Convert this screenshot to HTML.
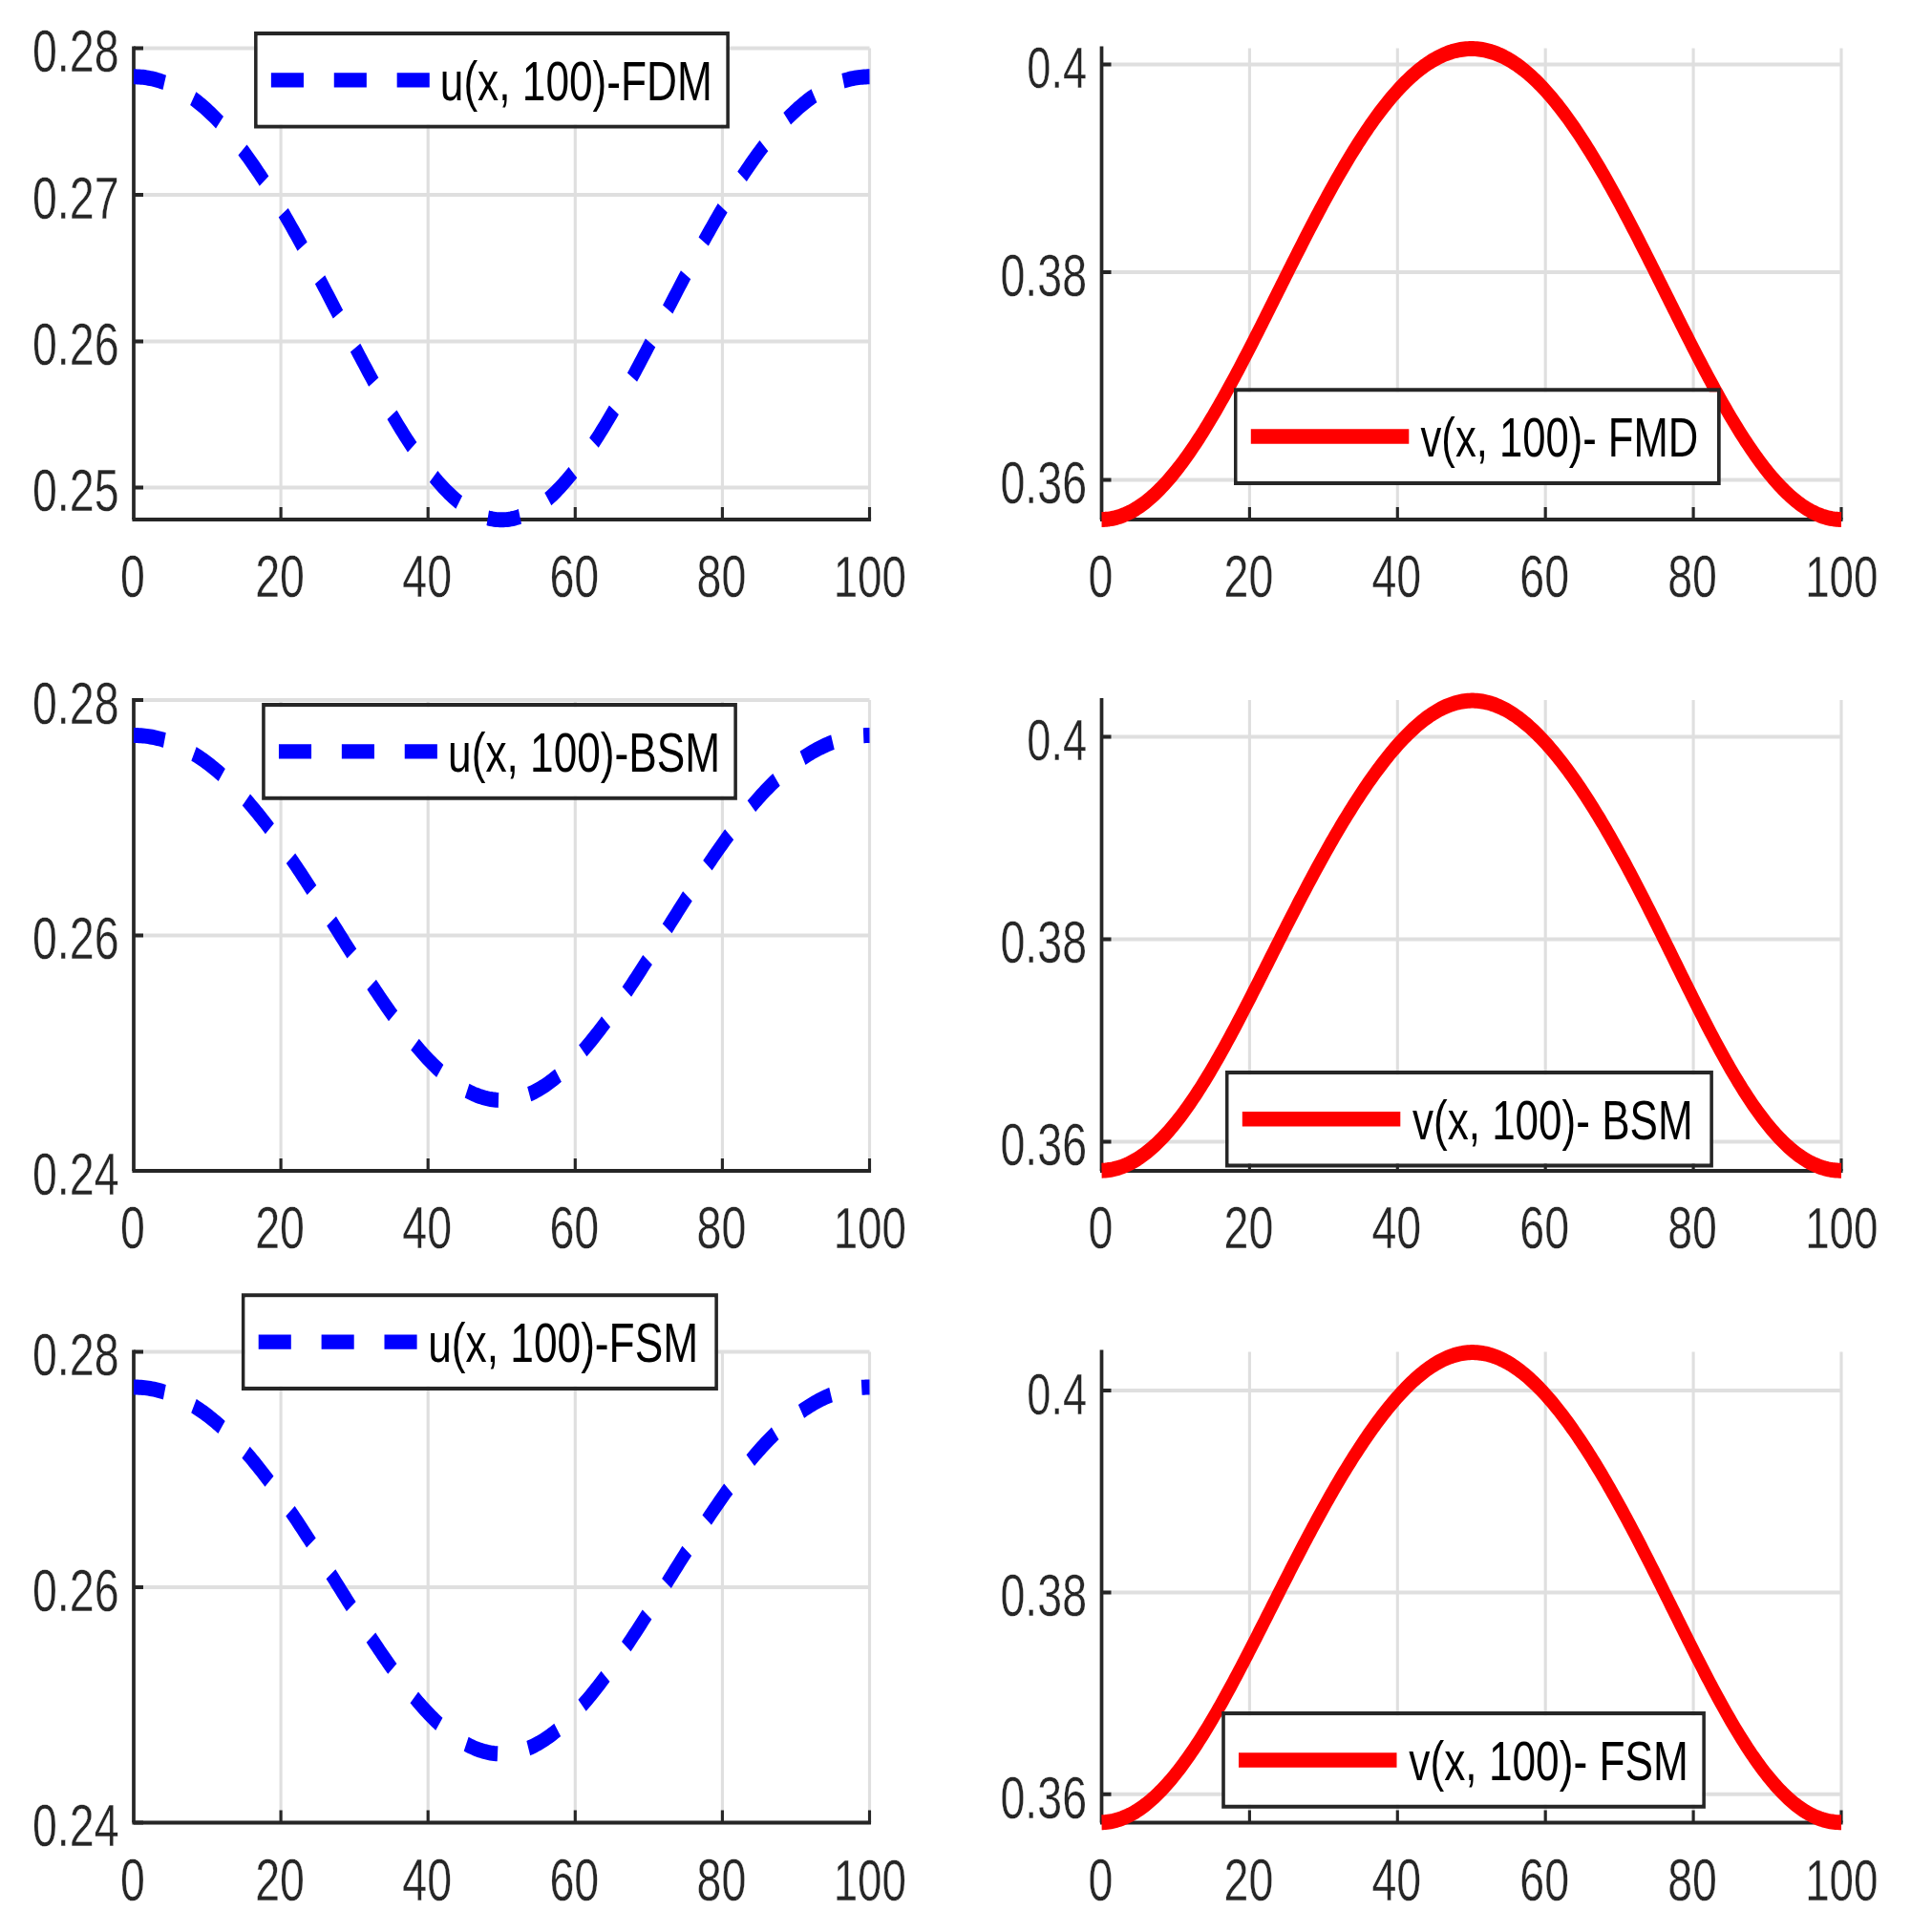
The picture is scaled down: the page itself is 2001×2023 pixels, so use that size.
<!DOCTYPE html>
<html><head><meta charset="utf-8"><title>u(x,100) and v(x,100)</title>
<style>html,body{margin:0;padding:0;background:#fff;}svg{display:block;}.tk{font-family:"Liberation Sans",Arial,Helvetica,sans-serif;fill:#262626;stroke:#fff;stroke-width:0.4px;}.lg{font-family:"Liberation Sans",Arial,Helvetica,sans-serif;fill:#000;}</style></head><body>
<svg width="2001" height="2023" viewBox="0 0 2001 2023">
<rect x="0" y="0" width="2001" height="2023" fill="#fff"/>
<g id="ax00">
<path d="M294.1 50.5V544M448.2 50.5V544M602.3 50.5V544M756.4 50.5V544M910.5 50.5V544" stroke="#dfdfdf" stroke-width="3.12" fill="none"/>
<path d="M140 50.5H910.5M140 204H910.5M140 357.5H910.5M140 510.5H910.5" stroke="#dfdfdf" stroke-width="4" fill="none"/>
<path d="M140 48.5V544" stroke="#262626" stroke-width="3.72" fill="none"/>
<path d="M138.44 544H912.06" stroke="#262626" stroke-width="4" fill="none"/>
<path d="M140 50.5H150M140 204H150M140 357.5H150M140 510.5H150" stroke="#262626" stroke-width="4" fill="none"/>
<path d="M294.1 544V531M448.2 544V531M602.3 544V531M756.4 544V531M910.5 544V531" stroke="#262626" stroke-width="3.12" fill="none"/>
<text class="tk" transform="translate(139 625.4) scale(0.75 1)" font-size="62.0" text-anchor="middle">0</text>
<text class="tk" transform="translate(293.1 625.4) scale(0.75 1)" font-size="62.0" text-anchor="middle">20</text>
<text class="tk" transform="translate(447.2 625.4) scale(0.75 1)" font-size="62.0" text-anchor="middle">40</text>
<text class="tk" transform="translate(601.3 625.4) scale(0.75 1)" font-size="62.0" text-anchor="middle">60</text>
<text class="tk" transform="translate(755.4 625.4) scale(0.75 1)" font-size="62.0" text-anchor="middle">80</text>
<text class="tk" transform="translate(910.8 625.4) scale(0.7375 1)" font-size="62.0" text-anchor="middle">100</text>
<text class="tk" transform="translate(124.5 75.2) scale(0.75 1)" font-size="62.0" text-anchor="end">0.28</text>
<text class="tk" transform="translate(124.5 228.7) scale(0.75 1)" font-size="62.0" text-anchor="end">0.27</text>
<text class="tk" transform="translate(124.5 382.2) scale(0.75 1)" font-size="62.0" text-anchor="end">0.26</text>
<text class="tk" transform="translate(124.5 535.2) scale(0.75 1)" font-size="62.0" text-anchor="end">0.25</text>
<g transform="translate(140 0) scale(0.78 1)"><polyline points="0,80.3 2.47,80.32 4.94,80.39 7.41,80.5 9.88,80.65 12.35,80.84 14.82,81.08 17.29,81.37 19.76,81.7 22.23,82.07 24.7,82.48 27.17,82.94 29.63,83.44 32.1,83.99 34.57,84.58 37.04,85.21 39.51,85.89 41.98,86.61 44.45,87.38 46.92,88.19 49.39,89.04 51.86,89.94 54.33,90.88 56.8,91.87 59.27,92.9 61.74,93.97 64.21,95.09 66.68,96.26 69.15,97.46 71.62,98.72 74.09,100.01 76.56,101.35 79.03,102.74 81.5,104.17 83.96,105.64 86.43,107.16 88.9,108.72 91.37,110.32 93.84,111.97 96.31,113.67 98.78,115.4 101.25,117.19 103.72,119.01 106.19,120.88 108.66,122.79 111.13,124.75 113.6,126.74 116.07,128.79 118.54,130.87 121.01,133 123.48,135.16 125.95,137.38 128.42,139.63 130.89,141.92 133.36,144.26 135.83,146.64 138.29,149.05 140.76,151.51 143.23,154.01 145.7,156.55 148.17,159.12 150.64,161.74 153.11,164.39 155.58,167.09 158.05,169.82 160.52,172.59 162.99,175.39 165.46,178.23 167.93,181.11 170.4,184.02 172.87,186.96 175.34,189.94 177.81,192.96 180.28,196 182.75,199.08 185.22,202.19 187.69,205.33 190.16,208.51 192.62,211.71 195.09,214.94 197.56,218.2 200.03,221.48 202.5,224.8 204.97,228.14 207.44,231.5 209.91,234.89 212.38,238.31 214.85,241.74 217.32,245.2 219.79,248.68 222.26,252.18 224.73,255.71 227.2,259.25 229.67,262.8 232.14,266.38 234.61,269.97 237.08,273.58 239.55,277.2 242.02,280.83 244.49,284.48 246.96,288.14 249.42,291.81 251.89,295.49 254.36,299.18 256.83,302.88 259.3,306.58 261.77,310.29 264.24,314.01 266.71,317.73 269.18,321.45 271.65,325.18 274.12,328.9 276.59,332.63 279.06,336.35 281.53,340.08 284,343.8 286.47,347.52 288.94,351.23 291.41,354.93 293.88,358.63 296.35,362.33 298.82,366.01 301.29,369.68 303.75,373.34 306.22,376.99 308.69,380.63 311.16,384.25 313.63,387.85 316.1,391.44 318.57,395.02 321.04,398.57 323.51,402.11 325.98,405.62 328.45,409.11 330.92,412.58 333.39,416.03 335.86,419.45 338.33,422.85 340.8,426.22 343.27,429.56 345.74,432.87 348.21,436.16 350.68,439.41 353.15,442.63 355.62,445.81 358.08,448.97 360.55,452.09 363.02,455.17 365.49,458.21 367.96,461.22 370.43,464.19 372.9,467.12 375.37,470 377.84,472.85 380.31,475.65 382.78,478.41 385.25,481.12 387.72,483.79 390.19,486.41 392.66,488.98 395.13,491.51 397.6,493.99 400.07,496.41 402.54,498.78 405.01,501.11 407.48,503.37 409.95,505.59 412.42,507.75 414.88,509.86 417.35,511.9 419.82,513.9 422.29,515.83 424.76,517.71 427.23,519.53 429.7,521.28 432.17,522.98 434.64,524.62 437.11,526.19 439.58,527.7 442.05,529.15 444.52,530.54 446.99,531.86 449.46,533.11 451.93,534.31 454.4,535.43 456.87,536.49 459.34,537.49 461.81,538.41 464.28,539.27 466.75,540.07 469.21,540.79 471.68,541.45 474.15,542.04 476.62,542.56 479.09,543.01 481.56,543.39 484.03,543.7 486.5,543.94 488.97,544.12 491.44,544.22 493.91,544.26 496.38,544.22 498.85,544.12 501.32,543.94 503.79,543.7 506.26,543.39 508.73,543.01 511.2,542.56 513.67,542.04 516.14,541.45 518.61,540.79 521.08,540.07 523.54,539.27 526.01,538.41 528.48,537.49 530.95,536.49 533.42,535.43 535.89,534.31 538.36,533.11 540.83,531.86 543.3,530.54 545.77,529.15 548.24,527.7 550.71,526.19 553.18,524.62 555.65,522.98 558.12,521.28 560.59,519.53 563.06,517.71 565.53,515.83 568,513.9 570.47,511.9 572.94,509.86 575.41,507.75 577.87,505.59 580.34,503.37 582.81,501.11 585.28,498.78 587.75,496.41 590.22,493.99 592.69,491.51 595.16,488.98 597.63,486.41 600.1,483.79 602.57,481.12 605.04,478.41 607.51,475.65 609.98,472.85 612.45,470 614.92,467.12 617.39,464.19 619.86,461.22 622.33,458.21 624.8,455.17 627.27,452.09 629.74,448.97 632.21,445.81 634.67,442.63 637.14,439.41 639.61,436.16 642.08,432.87 644.55,429.56 647.02,426.22 649.49,422.85 651.96,419.45 654.43,416.03 656.9,412.58 659.37,409.11 661.84,405.62 664.31,402.11 666.78,398.57 669.25,395.02 671.72,391.44 674.19,387.85 676.66,384.25 679.13,380.63 681.6,376.99 684.07,373.34 686.54,369.68 689,366.01 691.47,362.33 693.94,358.63 696.41,354.93 698.88,351.23 701.35,347.52 703.82,343.8 706.29,340.08 708.76,336.35 711.23,332.63 713.7,328.9 716.17,325.18 718.64,321.45 721.11,317.73 723.58,314.01 726.05,310.29 728.52,306.58 730.99,302.88 733.46,299.18 735.93,295.49 738.4,291.81 740.87,288.14 743.33,284.48 745.8,280.83 748.27,277.2 750.74,273.58 753.21,269.97 755.68,266.38 758.15,262.8 760.62,259.25 763.09,255.71 765.56,252.18 768.03,248.68 770.5,245.2 772.97,241.74 775.44,238.31 777.91,234.89 780.38,231.5 782.85,228.14 785.32,224.8 787.79,221.48 790.26,218.2 792.73,214.94 795.2,211.71 797.67,208.51 800.13,205.33 802.6,202.19 805.07,199.08 807.54,196 810.01,192.96 812.48,189.94 814.95,186.96 817.42,184.02 819.89,181.11 822.36,178.23 824.83,175.39 827.3,172.59 829.77,169.82 832.24,167.09 834.71,164.39 837.18,161.74 839.65,159.12 842.12,156.55 844.59,154.01 847.06,151.51 849.53,149.05 852,146.64 854.46,144.26 856.93,141.92 859.4,139.63 861.87,137.38 864.34,135.16 866.81,133 869.28,130.87 871.75,128.79 874.22,126.74 876.69,124.75 879.16,122.79 881.63,120.88 884.1,119.01 886.57,117.19 889.04,115.4 891.51,113.67 893.98,111.97 896.45,110.32 898.92,108.72 901.39,107.16 903.86,105.64 906.33,104.17 908.79,102.74 911.26,101.35 913.73,100.01 916.2,98.72 918.67,97.46 921.14,96.26 923.61,95.09 926.08,93.97 928.55,92.9 931.02,91.87 933.49,90.88 935.96,89.94 938.43,89.04 940.9,88.19 943.37,87.38 945.84,86.61 948.31,85.89 950.78,85.21 953.25,84.58 955.72,83.99 958.19,83.44 960.66,82.94 963.12,82.48 965.59,82.07 968.06,81.7 970.53,81.37 973,81.08 975.47,80.84 977.94,80.65 980.41,80.5 982.88,80.39 985.35,80.32 987.82,80.3" fill="none" stroke="#0000ff" stroke-dasharray="43.6 42.05" stroke-dashoffset="1.65" stroke-width="16" stroke-linejoin="round" stroke-linecap="butt"/></g>
<path d="M266.06 33.07H763.9V134.6H266.06Z M269.76 37.27V130.4H760.2V37.27Z" fill="#262626" fill-rule="evenodd"/>
<rect x="269.76" y="37.27" width="490.44" height="93.13" fill="#fff"/>
<path d="M283.86 83.83H449.86" stroke="#0000ff" stroke-width="15.3" stroke-dasharray="34.1 31.8" fill="none"/>
<text class="lg" transform="translate(460.8 104.67) scale(0.7692 1)" font-size="57.5">u(x, 100)-FDM</text>
</g>
<g id="ax01">
<path d="M1308.4 50.5V544M1463.3 50.5V544M1618.2 50.5V544M1773.1 50.5V544M1928 50.5V544" stroke="#dfdfdf" stroke-width="3.12" fill="none"/>
<path d="M1153.5 67.5H1928M1153.5 285H1928M1153.5 502.5H1928" stroke="#dfdfdf" stroke-width="4" fill="none"/>
<path d="M1153.5 48.5V544" stroke="#262626" stroke-width="3.72" fill="none"/>
<path d="M1151.94 544H1929.56" stroke="#262626" stroke-width="4" fill="none"/>
<path d="M1153.5 67.5H1163.5M1153.5 285H1163.5M1153.5 502.5H1163.5" stroke="#262626" stroke-width="4" fill="none"/>
<path d="M1308.4 544V531M1463.3 544V531M1618.2 544V531M1773.1 544V531M1928 544V531" stroke="#262626" stroke-width="3.12" fill="none"/>
<text class="tk" transform="translate(1152.5 625.4) scale(0.75 1)" font-size="62.0" text-anchor="middle">0</text>
<text class="tk" transform="translate(1307.4 625.4) scale(0.75 1)" font-size="62.0" text-anchor="middle">20</text>
<text class="tk" transform="translate(1462.3 625.4) scale(0.75 1)" font-size="62.0" text-anchor="middle">40</text>
<text class="tk" transform="translate(1617.2 625.4) scale(0.75 1)" font-size="62.0" text-anchor="middle">60</text>
<text class="tk" transform="translate(1772.1 625.4) scale(0.75 1)" font-size="62.0" text-anchor="middle">80</text>
<text class="tk" transform="translate(1928.3 625.4) scale(0.7375 1)" font-size="62.0" text-anchor="middle">100</text>
<text class="tk" transform="translate(1138 92.2) scale(0.727 1)" font-size="62.0" text-anchor="end">0.4</text>
<text class="tk" transform="translate(1138 309.7) scale(0.75 1)" font-size="62.0" text-anchor="end">0.38</text>
<text class="tk" transform="translate(1138 527.2) scale(0.75 1)" font-size="62.0" text-anchor="end">0.36</text>
<g transform="translate(1153.5 0) scale(0.78 1)"><polyline points="0,543.94 2.48,543.91 4.96,543.81 7.45,543.65 9.93,543.42 12.41,543.12 14.89,542.76 17.38,542.34 19.86,541.85 22.34,541.29 24.82,540.67 27.31,539.98 29.79,539.24 32.27,538.42 34.75,537.54 37.24,536.6 39.72,535.6 42.2,534.53 44.68,533.4 47.17,532.21 49.65,530.95 52.13,529.63 54.61,528.25 57.09,526.82 59.58,525.32 62.06,523.76 64.54,522.14 67.02,520.46 69.51,518.72 71.99,516.93 74.47,515.07 76.95,513.16 79.44,511.2 81.92,509.17 84.4,507.1 86.88,504.96 89.37,502.78 91.85,500.54 94.33,498.25 96.81,495.9 99.29,493.51 101.78,491.06 104.26,488.56 106.74,486.02 109.22,483.42 111.71,480.78 114.19,478.09 116.67,475.36 119.15,472.58 121.64,469.75 124.12,466.88 126.6,463.97 129.08,461.02 131.57,458.02 134.05,454.98 136.53,451.91 139.01,448.79 141.5,445.64 143.98,442.45 146.46,439.23 148.94,435.97 151.42,432.67 153.91,429.34 156.39,425.98 158.87,422.59 161.35,419.17 163.84,415.72 166.32,412.24 168.8,408.73 171.28,405.19 173.77,401.63 176.25,398.05 178.73,394.44 181.21,390.81 183.7,387.15 186.18,383.48 188.66,379.78 191.14,376.07 193.62,372.34 196.11,368.59 198.59,364.83 201.07,361.05 203.55,357.26 206.04,353.45 208.52,349.63 211,345.81 213.48,341.97 215.97,338.12 218.45,334.27 220.93,330.41 223.41,326.54 225.9,322.67 228.38,318.79 230.86,314.91 233.34,311.03 235.83,307.15 238.31,303.27 240.79,299.38 243.27,295.51 245.75,291.63 248.24,287.76 250.72,283.89 253.2,280.03 255.68,276.17 258.17,272.33 260.65,268.49 263.13,264.66 265.61,260.84 268.1,257.03 270.58,253.24 273.06,249.46 275.54,245.69 278.03,241.94 280.51,238.2 282.99,234.48 285.47,230.78 287.96,227.09 290.44,223.43 292.92,219.78 295.4,216.16 297.88,212.56 300.37,208.98 302.85,205.42 305.33,201.89 307.81,198.38 310.3,194.9 312.78,191.45 315.26,188.02 317.74,184.62 320.23,181.25 322.71,177.91 325.19,174.6 327.67,171.33 330.16,168.08 332.64,164.87 335.12,161.68 337.6,158.54 340.08,155.42 342.57,152.35 345.05,149.31 347.53,146.3 350.01,143.33 352.5,140.4 354.98,137.51 357.46,134.66 359.94,131.84 362.43,129.07 364.91,126.34 367.39,123.65 369.87,121 372.36,118.39 374.84,115.83 377.32,113.31 379.8,110.83 382.29,108.4 384.77,106.01 387.25,103.67 389.73,101.37 392.21,99.12 394.7,96.92 397.18,94.77 399.66,92.66 402.14,90.6 404.63,88.59 407.11,86.63 409.59,84.71 412.07,82.85 414.56,81.04 417.04,79.27 419.52,77.56 422,75.9 424.49,74.29 426.97,72.73 429.45,71.22 431.93,69.77 434.42,68.37 436.9,67.02 439.38,65.72 441.86,64.48 444.34,63.29 446.83,62.16 449.31,61.08 451.79,60.05 454.27,59.08 456.76,58.16 459.24,57.3 461.72,56.49 464.2,55.74 466.69,55.04 469.17,54.39 471.65,53.81 474.13,53.28 476.62,52.8 479.1,52.38 481.58,52.02 484.06,51.71 486.54,51.46 489.03,51.26 491.51,51.12 493.99,51.03 496.47,51.01 498.96,51.03 501.44,51.12 503.92,51.26 506.4,51.46 508.89,51.71 511.37,52.02 513.85,52.38 516.33,52.8 518.82,53.28 521.3,53.81 523.78,54.39 526.26,55.04 528.75,55.74 531.23,56.49 533.71,57.3 536.19,58.16 538.67,59.08 541.16,60.05 543.64,61.08 546.12,62.16 548.6,63.29 551.09,64.48 553.57,65.72 556.05,67.02 558.53,68.37 561.02,69.77 563.5,71.22 565.98,72.73 568.46,74.29 570.95,75.9 573.43,77.56 575.91,79.27 578.39,81.04 580.88,82.85 583.36,84.71 585.84,86.63 588.32,88.59 590.8,90.6 593.29,92.66 595.77,94.77 598.25,96.92 600.73,99.12 603.22,101.37 605.7,103.67 608.18,106.01 610.66,108.4 613.15,110.83 615.63,113.31 618.11,115.83 620.59,118.39 623.08,121 625.56,123.65 628.04,126.34 630.52,129.07 633,131.84 635.49,134.66 637.97,137.51 640.45,140.4 642.93,143.33 645.42,146.3 647.9,149.31 650.38,152.35 652.86,155.42 655.35,158.54 657.83,161.68 660.31,164.87 662.79,168.08 665.28,171.33 667.76,174.6 670.24,177.91 672.72,181.25 675.21,184.62 677.69,188.02 680.17,191.45 682.65,194.9 685.13,198.38 687.62,201.89 690.1,205.42 692.58,208.98 695.06,212.56 697.55,216.16 700.03,219.78 702.51,223.43 704.99,227.09 707.48,230.78 709.96,234.48 712.44,238.2 714.92,241.94 717.41,245.69 719.89,249.46 722.37,253.24 724.85,257.03 727.33,260.84 729.82,264.66 732.3,268.49 734.78,272.33 737.26,276.17 739.75,280.03 742.23,283.89 744.71,287.76 747.19,291.63 749.68,295.51 752.16,299.38 754.64,303.27 757.12,307.15 759.61,311.03 762.09,314.91 764.57,318.79 767.05,322.67 769.54,326.54 772.02,330.41 774.5,334.27 776.98,338.12 779.46,341.97 781.95,345.81 784.43,349.63 786.91,353.45 789.39,357.26 791.88,361.05 794.36,364.83 796.84,368.59 799.32,372.34 801.81,376.07 804.29,379.78 806.77,383.48 809.25,387.15 811.74,390.81 814.22,394.44 816.7,398.05 819.18,401.63 821.67,405.19 824.15,408.73 826.63,412.24 829.11,415.72 831.59,419.17 834.08,422.59 836.56,425.98 839.04,429.34 841.52,432.67 844.01,435.97 846.49,439.23 848.97,442.45 851.45,445.64 853.94,448.79 856.42,451.91 858.9,454.98 861.38,458.02 863.87,461.02 866.35,463.97 868.83,466.88 871.31,469.75 873.79,472.58 876.28,475.36 878.76,478.09 881.24,480.78 883.72,483.42 886.21,486.02 888.69,488.56 891.17,491.06 893.65,493.51 896.14,495.9 898.62,498.25 901.1,500.54 903.58,502.78 906.07,504.96 908.55,507.1 911.03,509.17 913.51,511.2 916,513.16 918.48,515.07 920.96,516.93 923.44,518.72 925.92,520.46 928.41,522.14 930.89,523.76 933.37,525.32 935.85,526.82 938.34,528.25 940.82,529.63 943.3,530.95 945.78,532.21 948.27,533.4 950.75,534.53 953.23,535.6 955.71,536.6 958.2,537.54 960.68,538.42 963.16,539.24 965.64,539.98 968.12,540.67 970.61,541.29 973.09,541.85 975.57,542.34 978.05,542.76 980.54,543.12 983.02,543.42 985.5,543.65 987.98,543.81 990.47,543.91 992.95,543.94" fill="none" stroke="#ff0000" stroke-width="16" stroke-linejoin="round" stroke-linecap="butt"/></g>
<path d="M1292 406.3H1801.7V507.9H1292Z M1295.7 410.5V503.7H1798V410.5Z" fill="#262626" fill-rule="evenodd"/>
<rect x="1295.7" y="410.5" width="502.3" height="93.2" fill="#fff"/>
<path d="M1309.8 457.1H1475.3" stroke="#ff0000" stroke-width="15.5" fill="none"/>
<text class="lg" transform="translate(1487.56 477.9) scale(0.7588 1)" font-size="57.5">v(x, 100)- FMD</text>
</g>
<g id="ax10">
<path d="M294.1 733V1226M448.2 733V1226M602.3 733V1226M756.4 733V1226M910.5 733V1226" stroke="#dfdfdf" stroke-width="3.12" fill="none"/>
<path d="M140 733H910.5M140 979.5H910.5M140 1226H910.5" stroke="#dfdfdf" stroke-width="4" fill="none"/>
<path d="M140 731V1226" stroke="#262626" stroke-width="3.72" fill="none"/>
<path d="M138.44 1226H912.06" stroke="#262626" stroke-width="4" fill="none"/>
<path d="M140 733H150M140 979.5H150M140 1226H150" stroke="#262626" stroke-width="4" fill="none"/>
<path d="M294.1 1226V1213M448.2 1226V1213M602.3 1226V1213M756.4 1226V1213M910.5 1226V1213" stroke="#262626" stroke-width="3.12" fill="none"/>
<text class="tk" transform="translate(139 1307.4) scale(0.75 1)" font-size="62.0" text-anchor="middle">0</text>
<text class="tk" transform="translate(293.1 1307.4) scale(0.75 1)" font-size="62.0" text-anchor="middle">20</text>
<text class="tk" transform="translate(447.2 1307.4) scale(0.75 1)" font-size="62.0" text-anchor="middle">40</text>
<text class="tk" transform="translate(601.3 1307.4) scale(0.75 1)" font-size="62.0" text-anchor="middle">60</text>
<text class="tk" transform="translate(755.4 1307.4) scale(0.75 1)" font-size="62.0" text-anchor="middle">80</text>
<text class="tk" transform="translate(910.8 1307.4) scale(0.7375 1)" font-size="62.0" text-anchor="middle">100</text>
<text class="tk" transform="translate(124.5 757.7) scale(0.75 1)" font-size="62.0" text-anchor="end">0.28</text>
<text class="tk" transform="translate(124.5 1004.2) scale(0.75 1)" font-size="62.0" text-anchor="end">0.26</text>
<text class="tk" transform="translate(124.5 1250.7) scale(0.75 1)" font-size="62.0" text-anchor="end">0.24</text>
<g transform="translate(140 0) scale(0.78 1)"><polyline points="0,769.99 2.47,770.01 4.94,770.06 7.41,770.15 9.88,770.28 12.35,770.44 14.82,770.64 17.29,770.87 19.76,771.14 22.23,771.45 24.7,771.79 27.17,772.17 29.63,772.58 32.1,773.03 34.57,773.52 37.04,774.04 39.51,774.6 41.98,775.19 44.45,775.82 46.92,776.49 49.39,777.19 51.86,777.93 54.33,778.71 56.8,779.52 59.27,780.37 61.74,781.26 64.21,782.18 66.68,783.14 69.15,784.13 71.62,785.16 74.09,786.23 76.56,787.34 79.03,788.48 81.5,789.65 83.96,790.87 86.43,792.12 88.9,793.41 91.37,794.73 93.84,796.09 96.31,797.48 98.78,798.92 101.25,800.38 103.72,801.89 106.19,803.43 108.66,805 111.13,806.62 113.6,808.26 116.07,809.95 118.54,811.67 121.01,813.42 123.48,815.21 125.95,817.03 128.42,818.89 130.89,820.78 133.36,822.71 135.83,824.67 138.29,826.67 140.76,828.69 143.23,830.75 145.7,832.85 148.17,834.98 150.64,837.14 153.11,839.33 155.58,841.55 158.05,843.8 160.52,846.09 162.99,848.4 165.46,850.75 167.93,853.13 170.4,855.53 172.87,857.96 175.34,860.43 177.81,862.92 180.28,865.43 182.75,867.98 185.22,870.55 187.69,873.15 190.16,875.77 192.62,878.41 195.09,881.08 197.56,883.78 200.03,886.5 202.5,889.24 204.97,892 207.44,894.78 209.91,897.59 212.38,900.41 214.85,903.25 217.32,906.11 219.79,908.99 222.26,911.89 224.73,914.8 227.2,917.73 229.67,920.67 232.14,923.63 234.61,926.6 237.08,929.58 239.55,932.58 242.02,935.59 244.49,938.61 246.96,941.63 249.42,944.67 251.89,947.71 254.36,950.77 256.83,953.82 259.3,956.89 261.77,959.96 264.24,963.03 266.71,966.11 269.18,969.18 271.65,972.26 274.12,975.34 276.59,978.42 279.06,981.5 281.53,984.58 284,987.66 286.47,990.73 288.94,993.79 291.41,996.85 293.88,999.91 296.35,1002.96 298.82,1006 301.29,1009.03 303.75,1012.05 306.22,1015.06 308.69,1018.06 311.16,1021.04 313.63,1024.02 316.1,1026.98 318.57,1029.92 321.04,1032.85 323.51,1035.76 325.98,1038.65 328.45,1041.53 330.92,1044.39 333.39,1047.22 335.86,1050.04 338.33,1052.83 340.8,1055.6 343.27,1058.35 345.74,1061.07 348.21,1063.76 350.68,1066.43 353.15,1069.08 355.62,1071.69 358.08,1074.28 360.55,1076.84 363.02,1079.36 365.49,1081.86 367.96,1084.32 370.43,1086.75 372.9,1089.15 375.37,1091.51 377.84,1093.84 380.31,1096.13 382.78,1098.39 385.25,1100.61 387.72,1102.79 390.19,1104.93 392.66,1107.03 395.13,1109.09 397.6,1111.11 400.07,1113.09 402.54,1115.02 405.01,1116.92 407.48,1118.77 409.95,1120.57 412.42,1122.33 414.88,1124.04 417.35,1125.71 419.82,1127.33 422.29,1128.91 424.76,1130.43 427.23,1131.91 429.7,1133.34 432.17,1134.72 434.64,1136.05 437.11,1137.33 439.58,1138.56 442.05,1139.73 444.52,1140.86 446.99,1141.93 449.46,1142.95 451.93,1143.92 454.4,1144.83 456.87,1145.69 459.34,1146.5 461.81,1147.25 464.28,1147.95 466.75,1148.59 469.21,1149.18 471.68,1149.71 474.15,1150.19 476.62,1150.61 479.09,1150.97 481.56,1151.28 484.03,1151.53 486.5,1151.73 488.97,1151.87 491.44,1151.96 493.91,1151.98 496.38,1151.96 498.85,1151.87 501.32,1151.73 503.79,1151.53 506.26,1151.28 508.73,1150.97 511.2,1150.61 513.67,1150.19 516.14,1149.71 518.61,1149.18 521.08,1148.59 523.54,1147.95 526.01,1147.25 528.48,1146.5 530.95,1145.69 533.42,1144.83 535.89,1143.92 538.36,1142.95 540.83,1141.93 543.3,1140.86 545.77,1139.73 548.24,1138.56 550.71,1137.33 553.18,1136.05 555.65,1134.72 558.12,1133.34 560.59,1131.91 563.06,1130.43 565.53,1128.91 568,1127.33 570.47,1125.71 572.94,1124.04 575.41,1122.33 577.87,1120.57 580.34,1118.77 582.81,1116.92 585.28,1115.02 587.75,1113.09 590.22,1111.11 592.69,1109.09 595.16,1107.03 597.63,1104.93 600.1,1102.79 602.57,1100.61 605.04,1098.39 607.51,1096.13 609.98,1093.84 612.45,1091.51 614.92,1089.15 617.39,1086.75 619.86,1084.32 622.33,1081.86 624.8,1079.36 627.27,1076.84 629.74,1074.28 632.21,1071.69 634.67,1069.08 637.14,1066.43 639.61,1063.76 642.08,1061.07 644.55,1058.35 647.02,1055.6 649.49,1052.83 651.96,1050.04 654.43,1047.22 656.9,1044.39 659.37,1041.53 661.84,1038.65 664.31,1035.76 666.78,1032.85 669.25,1029.92 671.72,1026.98 674.19,1024.02 676.66,1021.04 679.13,1018.06 681.6,1015.06 684.07,1012.05 686.54,1009.03 689,1006 691.47,1002.96 693.94,999.91 696.41,996.85 698.88,993.79 701.35,990.73 703.82,987.66 706.29,984.58 708.76,981.5 711.23,978.42 713.7,975.34 716.17,972.26 718.64,969.18 721.11,966.11 723.58,963.03 726.05,959.96 728.52,956.89 730.99,953.82 733.46,950.77 735.93,947.71 738.4,944.67 740.87,941.63 743.33,938.61 745.8,935.59 748.27,932.58 750.74,929.58 753.21,926.6 755.68,923.63 758.15,920.67 760.62,917.73 763.09,914.8 765.56,911.89 768.03,908.99 770.5,906.11 772.97,903.25 775.44,900.41 777.91,897.59 780.38,894.78 782.85,892 785.32,889.24 787.79,886.5 790.26,883.78 792.73,881.08 795.2,878.41 797.67,875.77 800.13,873.15 802.6,870.55 805.07,867.98 807.54,865.43 810.01,862.92 812.48,860.43 814.95,857.96 817.42,855.53 819.89,853.13 822.36,850.75 824.83,848.4 827.3,846.09 829.77,843.8 832.24,841.55 834.71,839.33 837.18,837.14 839.65,834.98 842.12,832.85 844.59,830.75 847.06,828.69 849.53,826.67 852,824.67 854.46,822.71 856.93,820.78 859.4,818.89 861.87,817.03 864.34,815.21 866.81,813.42 869.28,811.67 871.75,809.95 874.22,808.26 876.69,806.62 879.16,805 881.63,803.43 884.1,801.89 886.57,800.38 889.04,798.92 891.51,797.48 893.98,796.09 896.45,794.73 898.92,793.41 901.39,792.12 903.86,790.87 906.33,789.65 908.79,788.48 911.26,787.34 913.73,786.23 916.2,785.16 918.67,784.13 921.14,783.14 923.61,782.18 926.08,781.26 928.55,780.37 931.02,779.52 933.49,778.71 935.96,777.93 938.43,777.19 940.9,776.49 943.37,775.82 945.84,775.19 948.31,774.6 950.78,774.04 953.25,773.52 955.72,773.03 958.19,772.58 960.66,772.17 963.12,771.79 965.59,771.45 968.06,771.14 970.53,770.87 973,770.64 975.47,770.44 977.94,770.28 980.41,770.15 982.88,770.06 985.35,770.01 987.82,769.99" fill="none" stroke="#0000ff" stroke-dasharray="43.6 41.95" stroke-dashoffset="1.75" stroke-width="16" stroke-linejoin="round" stroke-linecap="butt"/></g>
<path d="M274.15 736.1H771.9V837.8H274.15Z M277.85 740.3V833.6H768.2V740.3Z" fill="#262626" fill-rule="evenodd"/>
<rect x="277.85" y="740.3" width="490.35" height="93.3" fill="#fff"/>
<path d="M291.95 786.95H457.95" stroke="#0000ff" stroke-width="15.3" stroke-dasharray="34.1 31.8" fill="none"/>
<text class="lg" transform="translate(469.11 807.7) scale(0.7689 1)" font-size="57.5">u(x, 100)-BSM</text>
</g>
<g id="ax11">
<path d="M1308.4 733V1226M1463.3 733V1226M1618.2 733V1226M1773.1 733V1226M1928 733V1226" stroke="#dfdfdf" stroke-width="3.12" fill="none"/>
<path d="M1153.5 771.4H1928M1153.5 983.5H1928M1153.5 1195.5H1928" stroke="#dfdfdf" stroke-width="4" fill="none"/>
<path d="M1153.5 731V1226" stroke="#262626" stroke-width="3.72" fill="none"/>
<path d="M1151.94 1226H1929.56" stroke="#262626" stroke-width="4" fill="none"/>
<path d="M1153.5 771.4H1163.5M1153.5 983.5H1163.5M1153.5 1195.5H1163.5" stroke="#262626" stroke-width="4" fill="none"/>
<path d="M1308.4 1226V1213M1463.3 1226V1213M1618.2 1226V1213M1773.1 1226V1213M1928 1226V1213" stroke="#262626" stroke-width="3.12" fill="none"/>
<text class="tk" transform="translate(1152.5 1307.4) scale(0.75 1)" font-size="62.0" text-anchor="middle">0</text>
<text class="tk" transform="translate(1307.4 1307.4) scale(0.75 1)" font-size="62.0" text-anchor="middle">20</text>
<text class="tk" transform="translate(1462.3 1307.4) scale(0.75 1)" font-size="62.0" text-anchor="middle">40</text>
<text class="tk" transform="translate(1617.2 1307.4) scale(0.75 1)" font-size="62.0" text-anchor="middle">60</text>
<text class="tk" transform="translate(1772.1 1307.4) scale(0.75 1)" font-size="62.0" text-anchor="middle">80</text>
<text class="tk" transform="translate(1928.3 1307.4) scale(0.7375 1)" font-size="62.0" text-anchor="middle">100</text>
<text class="tk" transform="translate(1138 796.1) scale(0.727 1)" font-size="62.0" text-anchor="end">0.4</text>
<text class="tk" transform="translate(1138 1008.2) scale(0.75 1)" font-size="62.0" text-anchor="end">0.38</text>
<text class="tk" transform="translate(1138 1220.2) scale(0.75 1)" font-size="62.0" text-anchor="end">0.36</text>
<g transform="translate(1153.5 0) scale(0.78 1)"><polyline points="0,1225.68 2.48,1225.62 4.96,1225.5 7.45,1225.32 9.93,1225.07 12.41,1224.77 14.89,1224.4 17.38,1223.96 19.86,1223.47 22.34,1222.91 24.82,1222.29 27.31,1221.61 29.79,1220.87 32.27,1220.07 34.75,1219.2 37.24,1218.27 39.72,1217.28 42.2,1216.23 44.68,1215.12 47.17,1213.95 49.65,1212.72 52.13,1211.42 54.61,1210.07 57.09,1208.66 59.58,1207.18 62.06,1205.65 64.54,1204.06 67.02,1202.41 69.51,1200.7 71.99,1198.93 74.47,1197.1 76.95,1195.22 79.44,1193.28 81.92,1191.28 84.4,1189.23 86.88,1187.12 89.37,1184.95 91.85,1182.73 94.33,1180.46 96.81,1178.13 99.29,1175.75 101.78,1173.31 104.26,1170.83 106.74,1168.29 109.22,1165.7 111.71,1163.06 114.19,1160.37 116.67,1157.64 119.15,1154.85 121.64,1152.02 124.12,1149.14 126.6,1146.22 129.08,1143.25 131.57,1140.24 134.05,1137.19 136.53,1134.1 139.01,1130.96 141.5,1127.79 143.98,1124.57 146.46,1121.32 148.94,1118.03 151.42,1114.71 153.91,1111.35 156.39,1107.96 158.87,1104.54 161.35,1101.08 163.84,1097.6 166.32,1094.09 168.8,1090.54 171.28,1086.98 173.77,1083.39 176.25,1079.77 178.73,1076.13 181.21,1072.47 183.7,1068.79 186.18,1065.09 188.66,1061.37 191.14,1057.63 193.62,1053.88 196.11,1050.11 198.59,1046.33 201.07,1042.54 203.55,1038.74 206.04,1034.93 208.52,1031.1 211,1027.28 213.48,1023.44 215.97,1019.6 218.45,1015.76 220.93,1011.91 223.41,1008.06 225.9,1004.21 228.38,1000.36 230.86,996.51 233.34,992.67 235.83,988.82 238.31,984.98 240.79,981.15 243.27,977.32 245.75,973.5 248.24,969.69 250.72,965.89 253.2,962.09 255.68,958.31 258.17,954.54 260.65,950.78 263.13,947.03 265.61,943.3 268.1,939.58 270.58,935.87 273.06,932.19 275.54,928.51 278.03,924.86 280.51,921.22 282.99,917.61 285.47,914.01 287.96,910.43 290.44,906.87 292.92,903.33 295.4,899.82 297.88,896.32 300.37,892.85 302.85,889.4 305.33,885.98 307.81,882.57 310.3,879.2 312.78,875.85 315.26,872.52 317.74,869.22 320.23,865.95 322.71,862.7 325.19,859.48 327.67,856.29 330.16,853.12 332.64,849.99 335.12,846.89 337.6,843.81 340.08,840.77 342.57,837.75 345.05,834.77 347.53,831.82 350.01,828.9 352.5,826.01 354.98,823.16 357.46,820.34 359.94,817.55 362.43,814.8 364.91,812.09 367.39,809.41 369.87,806.77 372.36,804.16 374.84,801.59 377.32,799.06 379.8,796.57 382.29,794.11 384.77,791.7 387.25,789.33 389.73,787 392.21,784.71 394.7,782.46 397.18,780.25 399.66,778.09 402.14,775.97 404.63,773.9 407.11,771.87 409.59,769.89 412.07,767.95 414.56,766.07 417.04,764.22 419.52,762.43 422,760.69 424.49,758.99 426.97,757.35 429.45,755.76 431.93,754.21 434.42,752.72 436.9,751.28 439.38,749.9 441.86,748.57 444.34,747.29 446.83,746.07 449.31,744.9 451.79,743.78 454.27,742.73 456.76,741.73 459.24,740.78 461.72,739.89 464.2,739.06 466.69,738.29 469.17,737.58 471.65,736.92 474.13,736.32 476.62,735.79 479.1,735.31 481.58,734.89 484.06,734.53 486.54,734.23 489.03,733.99 491.51,733.8 493.99,733.68 496.47,733.62 498.96,733.62 501.44,733.68 503.92,733.8 506.4,733.98 508.89,734.21 511.37,734.51 513.85,734.87 516.33,735.29 518.82,735.76 521.3,736.3 523.78,736.89 526.26,737.54 528.75,738.25 531.23,739.02 533.71,739.84 536.19,740.72 538.67,741.66 541.16,742.65 543.64,743.7 546.12,744.81 548.6,745.97 551.09,747.18 553.57,748.45 556.05,749.77 558.53,751.15 561.02,752.57 563.5,754.05 565.98,755.58 568.46,757.16 570.95,758.8 573.43,760.48 575.91,762.21 578.39,763.99 580.88,765.82 583.36,767.69 585.84,769.61 588.32,771.58 590.8,773.6 593.29,775.66 595.77,777.76 598.25,779.91 600.73,782.1 603.22,784.34 605.7,786.62 608.18,788.94 610.66,791.3 613.15,793.71 615.63,796.15 618.11,798.64 620.59,801.16 623.08,803.72 625.56,806.32 628.04,808.96 630.52,811.64 633,814.36 635.49,817.11 637.97,819.9 640.45,822.72 642.93,825.58 645.42,828.47 647.9,831.4 650.38,834.37 652.86,837.36 655.35,840.39 657.83,843.46 660.31,846.55 662.79,849.68 665.28,852.84 667.76,856.03 670.24,859.25 672.72,862.5 675.21,865.78 677.69,869.09 680.17,872.42 682.65,875.79 685.13,879.19 687.62,882.61 690.1,886.06 692.58,889.53 695.06,893.03 697.55,896.56 700.03,900.11 702.51,903.68 704.99,907.28 707.48,910.91 709.96,914.55 712.44,918.21 714.92,921.9 717.41,925.61 719.89,929.33 722.37,933.08 724.85,936.84 727.33,940.62 729.82,944.42 732.3,948.24 734.78,952.06 737.26,955.91 739.75,959.76 742.23,963.63 744.71,967.51 747.19,971.4 749.68,975.29 752.16,979.2 754.64,983.11 757.12,987.03 759.61,990.96 762.09,994.89 764.57,998.82 767.05,1002.75 769.54,1006.69 772.02,1010.62 774.5,1014.56 776.98,1018.49 779.46,1022.41 781.95,1026.33 784.43,1030.24 786.91,1034.15 789.39,1038.05 791.88,1041.93 794.36,1045.81 796.84,1049.67 799.32,1053.52 801.81,1057.35 804.29,1061.17 806.77,1064.96 809.25,1068.74 811.74,1072.5 814.22,1076.24 816.7,1079.95 819.18,1083.64 821.67,1087.3 824.15,1090.93 826.63,1094.54 829.11,1098.12 831.59,1101.66 834.08,1105.18 836.56,1108.66 839.04,1112.1 841.52,1115.51 844.01,1118.89 846.49,1122.23 848.97,1125.52 851.45,1128.78 853.94,1132 856.42,1135.17 858.9,1138.3 861.38,1141.39 863.87,1144.43 866.35,1147.43 868.83,1150.38 871.31,1153.28 873.79,1156.13 876.28,1158.94 878.76,1161.69 881.24,1164.39 883.72,1167.04 886.21,1169.64 888.69,1172.19 891.17,1174.68 893.65,1177.11 896.14,1179.49 898.62,1181.82 901.1,1184.09 903.58,1186.3 906.07,1188.46 908.55,1190.56 911.03,1192.6 913.51,1194.58 916,1196.5 918.48,1198.36 920.96,1200.17 923.44,1201.91 925.92,1203.59 928.41,1205.22 930.89,1206.78 933.37,1208.28 935.85,1209.72 938.34,1211.1 940.82,1212.42 943.3,1213.67 945.78,1214.87 948.27,1216 950.75,1217.07 953.23,1218.08 955.71,1219.02 958.2,1219.9 960.68,1220.72 963.16,1221.48 965.64,1222.17 968.12,1222.81 970.61,1223.38 973.09,1223.88 975.57,1224.33 978.05,1224.71 980.54,1225.03 983.02,1225.28 985.5,1225.48 987.98,1225.61 990.47,1225.67 992.95,1225.68" fill="none" stroke="#ff0000" stroke-width="16" stroke-linejoin="round" stroke-linecap="butt"/></g>
<path d="M1283 1121.1H1793.9V1222.5H1283Z M1286.7 1125.3V1218.3H1790.2V1125.3Z" fill="#262626" fill-rule="evenodd"/>
<rect x="1286.7" y="1125.3" width="503.5" height="93" fill="#fff"/>
<path d="M1300.8 1171.8H1466.3" stroke="#ff0000" stroke-width="15.5" fill="none"/>
<text class="lg" transform="translate(1478.96 1192.7) scale(0.7660 1)" font-size="57.5">v(x, 100)- BSM</text>
</g>
<g id="ax20">
<path d="M294.1 1415.5V1908.5M448.2 1415.5V1908.5M602.3 1415.5V1908.5M756.4 1415.5V1908.5M910.5 1415.5V1908.5" stroke="#dfdfdf" stroke-width="3.12" fill="none"/>
<path d="M140 1415.5H910.5M140 1662H910.5M140 1908.5H910.5" stroke="#dfdfdf" stroke-width="4" fill="none"/>
<path d="M140 1413.5V1908.5" stroke="#262626" stroke-width="3.72" fill="none"/>
<path d="M138.44 1908.5H912.06" stroke="#262626" stroke-width="4" fill="none"/>
<path d="M140 1415.5H150M140 1662H150M140 1908.5H150" stroke="#262626" stroke-width="4" fill="none"/>
<path d="M294.1 1908.5V1895.5M448.2 1908.5V1895.5M602.3 1908.5V1895.5M756.4 1908.5V1895.5M910.5 1908.5V1895.5" stroke="#262626" stroke-width="3.12" fill="none"/>
<text class="tk" transform="translate(139 1989.9) scale(0.75 1)" font-size="62.0" text-anchor="middle">0</text>
<text class="tk" transform="translate(293.1 1989.9) scale(0.75 1)" font-size="62.0" text-anchor="middle">20</text>
<text class="tk" transform="translate(447.2 1989.9) scale(0.75 1)" font-size="62.0" text-anchor="middle">40</text>
<text class="tk" transform="translate(601.3 1989.9) scale(0.75 1)" font-size="62.0" text-anchor="middle">60</text>
<text class="tk" transform="translate(755.4 1989.9) scale(0.75 1)" font-size="62.0" text-anchor="middle">80</text>
<text class="tk" transform="translate(910.8 1989.9) scale(0.7375 1)" font-size="62.0" text-anchor="middle">100</text>
<text class="tk" transform="translate(124.5 1440.2) scale(0.75 1)" font-size="62.0" text-anchor="end">0.28</text>
<text class="tk" transform="translate(124.5 1686.7) scale(0.75 1)" font-size="62.0" text-anchor="end">0.26</text>
<text class="tk" transform="translate(124.5 1933.2) scale(0.75 1)" font-size="62.0" text-anchor="end">0.24</text>
<g transform="translate(140 0) scale(0.78 1)"><polyline points="0,1452.49 2.47,1452.51 4.94,1452.56 7.41,1452.66 9.88,1452.78 12.35,1452.95 14.82,1453.15 17.29,1453.39 19.76,1453.67 22.23,1453.98 24.7,1454.33 27.17,1454.71 29.63,1455.13 32.1,1455.59 34.57,1456.09 37.04,1456.62 39.51,1457.19 41.98,1457.8 44.45,1458.44 46.92,1459.12 49.39,1459.84 51.86,1460.59 54.33,1461.38 56.8,1462.21 59.27,1463.08 61.74,1463.98 64.21,1464.92 66.68,1465.89 69.15,1466.91 71.62,1467.96 74.09,1469.05 76.56,1470.17 79.03,1471.33 81.5,1472.53 83.96,1473.77 86.43,1475.04 88.9,1476.35 91.37,1477.69 93.84,1479.08 96.31,1480.5 98.78,1481.95 101.25,1483.44 103.72,1484.97 106.19,1486.54 108.66,1488.14 111.13,1489.78 113.6,1491.45 116.07,1493.16 118.54,1494.91 121.01,1496.69 123.48,1498.5 125.95,1500.35 128.42,1502.24 130.89,1504.16 133.36,1506.11 135.83,1508.1 138.29,1510.12 140.76,1512.18 143.23,1514.27 145.7,1516.39 148.17,1518.54 150.64,1520.73 153.11,1522.95 155.58,1525.2 158.05,1527.48 160.52,1529.79 162.99,1532.14 165.46,1534.51 167.93,1536.91 170.4,1539.34 172.87,1541.8 175.34,1544.29 177.81,1546.81 180.28,1549.35 182.75,1551.92 185.22,1554.52 187.69,1557.14 190.16,1559.79 192.62,1562.46 195.09,1565.16 197.56,1567.87 200.03,1570.62 202.5,1573.38 204.97,1576.17 207.44,1578.97 209.91,1581.8 212.38,1584.64 214.85,1587.51 217.32,1590.39 219.79,1593.29 222.26,1596.21 224.73,1599.14 227.2,1602.09 229.67,1605.05 232.14,1608.03 234.61,1611.02 237.08,1614.02 239.55,1617.03 242.02,1620.06 244.49,1623.09 246.96,1626.13 249.42,1629.19 251.89,1632.24 254.36,1635.31 256.83,1638.38 259.3,1641.46 261.77,1644.54 264.24,1647.63 266.71,1650.72 269.18,1653.8 271.65,1656.9 274.12,1659.99 276.59,1663.08 279.06,1666.17 281.53,1669.25 284,1672.33 286.47,1675.41 288.94,1678.49 291.41,1681.55 293.88,1684.62 296.35,1687.67 298.82,1690.71 301.29,1693.75 303.75,1696.78 306.22,1699.79 308.69,1702.79 311.16,1705.78 313.63,1708.76 316.1,1711.72 318.57,1714.67 321.04,1717.6 323.51,1720.51 325.98,1723.4 328.45,1726.28 330.92,1729.14 333.39,1731.97 335.86,1734.78 338.33,1737.58 340.8,1740.34 343.27,1743.09 345.74,1745.81 348.21,1748.5 350.68,1751.17 353.15,1753.81 355.62,1756.42 358.08,1759.01 360.55,1761.56 363.02,1764.08 365.49,1766.57 367.96,1769.03 370.43,1771.46 372.9,1773.85 375.37,1776.21 377.84,1778.53 380.31,1780.82 382.78,1783.07 385.25,1785.28 387.72,1787.46 390.19,1789.59 392.66,1791.69 395.13,1793.74 397.6,1795.76 400.07,1797.73 402.54,1799.66 405.01,1801.55 407.48,1803.39 409.95,1805.19 412.42,1806.94 414.88,1808.65 417.35,1810.32 419.82,1811.93 422.29,1813.5 424.76,1815.02 427.23,1816.49 429.7,1817.92 432.17,1819.29 434.64,1820.62 437.11,1821.89 439.58,1823.11 442.05,1824.28 444.52,1825.41 446.99,1826.47 449.46,1827.49 451.93,1828.45 454.4,1829.36 456.87,1830.22 459.34,1831.02 461.81,1831.77 464.28,1832.46 466.75,1833.1 469.21,1833.69 471.68,1834.22 474.15,1834.69 476.62,1835.11 479.09,1835.48 481.56,1835.78 484.03,1836.04 486.5,1836.23 488.97,1836.37 491.44,1836.46 493.91,1836.48 496.38,1836.46 498.85,1836.37 501.32,1836.23 503.79,1836.04 506.26,1835.78 508.73,1835.48 511.2,1835.11 513.67,1834.69 516.14,1834.22 518.61,1833.69 521.08,1833.1 523.54,1832.46 526.01,1831.77 528.48,1831.02 530.95,1830.22 533.42,1829.36 535.89,1828.45 538.36,1827.49 540.83,1826.47 543.3,1825.41 545.77,1824.28 548.24,1823.11 550.71,1821.89 553.18,1820.62 555.65,1819.29 558.12,1817.92 560.59,1816.49 563.06,1815.02 565.53,1813.5 568,1811.93 570.47,1810.32 572.94,1808.65 575.41,1806.94 577.87,1805.19 580.34,1803.39 582.81,1801.55 585.28,1799.66 587.75,1797.73 590.22,1795.76 592.69,1793.74 595.16,1791.69 597.63,1789.59 600.1,1787.46 602.57,1785.28 605.04,1783.07 607.51,1780.82 609.98,1778.53 612.45,1776.21 614.92,1773.85 617.39,1771.46 619.86,1769.03 622.33,1766.57 624.8,1764.08 627.27,1761.56 629.74,1759.01 632.21,1756.42 634.67,1753.81 637.14,1751.17 639.61,1748.5 642.08,1745.81 644.55,1743.09 647.02,1740.34 649.49,1737.58 651.96,1734.78 654.43,1731.97 656.9,1729.14 659.37,1726.28 661.84,1723.4 664.31,1720.51 666.78,1717.6 669.25,1714.67 671.72,1711.72 674.19,1708.76 676.66,1705.78 679.13,1702.79 681.6,1699.79 684.07,1696.78 686.54,1693.75 689,1690.71 691.47,1687.67 693.94,1684.62 696.41,1681.55 698.88,1678.49 701.35,1675.41 703.82,1672.33 706.29,1669.25 708.76,1666.17 711.23,1663.08 713.7,1659.99 716.17,1656.9 718.64,1653.8 721.11,1650.72 723.58,1647.63 726.05,1644.54 728.52,1641.46 730.99,1638.38 733.46,1635.31 735.93,1632.24 738.4,1629.19 740.87,1626.13 743.33,1623.09 745.8,1620.06 748.27,1617.03 750.74,1614.02 753.21,1611.02 755.68,1608.03 758.15,1605.05 760.62,1602.09 763.09,1599.14 765.56,1596.21 768.03,1593.29 770.5,1590.39 772.97,1587.51 775.44,1584.64 777.91,1581.8 780.38,1578.97 782.85,1576.17 785.32,1573.38 787.79,1570.62 790.26,1567.87 792.73,1565.16 795.2,1562.46 797.67,1559.79 800.13,1557.14 802.6,1554.52 805.07,1551.92 807.54,1549.35 810.01,1546.81 812.48,1544.29 814.95,1541.8 817.42,1539.34 819.89,1536.91 822.36,1534.51 824.83,1532.14 827.3,1529.79 829.77,1527.48 832.24,1525.2 834.71,1522.95 837.18,1520.73 839.65,1518.54 842.12,1516.39 844.59,1514.27 847.06,1512.18 849.53,1510.12 852,1508.1 854.46,1506.11 856.93,1504.16 859.4,1502.24 861.87,1500.35 864.34,1498.5 866.81,1496.69 869.28,1494.91 871.75,1493.16 874.22,1491.45 876.69,1489.78 879.16,1488.14 881.63,1486.54 884.1,1484.97 886.57,1483.44 889.04,1481.95 891.51,1480.5 893.98,1479.08 896.45,1477.69 898.92,1476.35 901.39,1475.04 903.86,1473.77 906.33,1472.53 908.79,1471.33 911.26,1470.17 913.73,1469.05 916.2,1467.96 918.67,1466.91 921.14,1465.89 923.61,1464.92 926.08,1463.98 928.55,1463.08 931.02,1462.21 933.49,1461.38 935.96,1460.59 938.43,1459.84 940.9,1459.12 943.37,1458.44 945.84,1457.8 948.31,1457.19 950.78,1456.62 953.25,1456.09 955.72,1455.59 958.19,1455.13 960.66,1454.71 963.12,1454.33 965.59,1453.98 968.06,1453.67 970.53,1453.39 973,1453.15 975.47,1452.95 977.94,1452.78 980.41,1452.66 982.88,1452.56 985.35,1452.51 987.82,1452.49" fill="none" stroke="#0000ff" stroke-dasharray="43.6 41.95" stroke-dashoffset="1.75" stroke-width="16" stroke-linejoin="round" stroke-linecap="butt"/></g>
<path d="M252.9 1354.2H751.9V1455.9H252.9Z M256.6 1358.4V1451.7H748.2V1358.4Z" fill="#262626" fill-rule="evenodd"/>
<rect x="256.6" y="1358.4" width="491.6" height="93.3" fill="#fff"/>
<path d="M270.7 1405.05H436.7" stroke="#0000ff" stroke-width="15.3" stroke-dasharray="34.1 31.8" fill="none"/>
<text class="lg" transform="translate(448.2 1425.8) scale(0.7701 1)" font-size="57.5">u(x, 100)-FSM</text>
</g>
<g id="ax21">
<path d="M1308.4 1415.5V1908.5M1463.3 1415.5V1908.5M1618.2 1415.5V1908.5M1773.1 1415.5V1908.5M1928 1415.5V1908.5" stroke="#dfdfdf" stroke-width="3.12" fill="none"/>
<path d="M1153.5 1456H1928M1153.5 1667.4H1928M1153.5 1878.8H1928" stroke="#dfdfdf" stroke-width="4" fill="none"/>
<path d="M1153.5 1413.5V1908.5" stroke="#262626" stroke-width="3.72" fill="none"/>
<path d="M1151.94 1908.5H1929.56" stroke="#262626" stroke-width="4" fill="none"/>
<path d="M1153.5 1456H1163.5M1153.5 1667.4H1163.5M1153.5 1878.8H1163.5" stroke="#262626" stroke-width="4" fill="none"/>
<path d="M1308.4 1908.5V1895.5M1463.3 1908.5V1895.5M1618.2 1908.5V1895.5M1773.1 1908.5V1895.5M1928 1908.5V1895.5" stroke="#262626" stroke-width="3.12" fill="none"/>
<text class="tk" transform="translate(1152.5 1989.9) scale(0.75 1)" font-size="62.0" text-anchor="middle">0</text>
<text class="tk" transform="translate(1307.4 1989.9) scale(0.75 1)" font-size="62.0" text-anchor="middle">20</text>
<text class="tk" transform="translate(1462.3 1989.9) scale(0.75 1)" font-size="62.0" text-anchor="middle">40</text>
<text class="tk" transform="translate(1617.2 1989.9) scale(0.75 1)" font-size="62.0" text-anchor="middle">60</text>
<text class="tk" transform="translate(1772.1 1989.9) scale(0.75 1)" font-size="62.0" text-anchor="middle">80</text>
<text class="tk" transform="translate(1928.3 1989.9) scale(0.7375 1)" font-size="62.0" text-anchor="middle">100</text>
<text class="tk" transform="translate(1138 1480.7) scale(0.727 1)" font-size="62.0" text-anchor="end">0.4</text>
<text class="tk" transform="translate(1138 1692.1) scale(0.75 1)" font-size="62.0" text-anchor="end">0.38</text>
<text class="tk" transform="translate(1138 1903.5) scale(0.75 1)" font-size="62.0" text-anchor="end">0.36</text>
<g transform="translate(1153.5 0) scale(0.78 1)"><polyline points="0,1908.19 2.48,1908.13 4.96,1908 7.45,1907.81 9.93,1907.55 12.41,1907.23 14.89,1906.85 17.38,1906.4 19.86,1905.89 22.34,1905.32 24.82,1904.68 27.31,1903.99 29.79,1903.22 32.27,1902.4 34.75,1901.52 37.24,1900.57 39.72,1899.56 42.2,1898.49 44.68,1897.36 47.17,1896.17 49.65,1894.91 52.13,1893.6 54.61,1892.22 57.09,1890.79 59.58,1889.29 62.06,1887.74 64.54,1886.13 67.02,1884.46 69.51,1882.73 71.99,1880.94 74.47,1879.09 76.95,1877.19 79.44,1875.23 81.92,1873.22 84.4,1871.15 86.88,1869.02 89.37,1866.84 91.85,1864.61 94.33,1862.32 96.81,1859.98 99.29,1857.58 101.78,1855.14 104.26,1852.64 106.74,1850.1 109.22,1847.5 111.71,1844.85 114.19,1842.16 116.67,1839.42 119.15,1836.63 121.64,1833.8 124.12,1830.92 126.6,1828 129.08,1825.03 131.57,1822.02 134.05,1818.97 136.53,1815.88 139.01,1812.75 141.5,1809.58 143.98,1806.37 146.46,1803.13 148.94,1799.85 151.42,1796.54 153.91,1793.19 156.39,1789.81 158.87,1786.4 161.35,1782.96 163.84,1779.48 166.32,1775.98 168.8,1772.46 171.28,1768.9 173.77,1765.33 176.25,1761.73 178.73,1758.1 181.21,1754.46 183.7,1750.79 186.18,1747.11 188.66,1743.4 191.14,1739.69 193.62,1735.95 196.11,1732.2 198.59,1728.44 201.07,1724.66 203.55,1720.88 206.04,1717.08 208.52,1713.28 211,1709.46 213.48,1705.64 215.97,1701.82 218.45,1697.99 220.93,1694.16 223.41,1690.32 225.9,1686.49 228.38,1682.65 230.86,1678.82 233.34,1674.98 235.83,1671.15 238.31,1667.32 240.79,1663.5 243.27,1659.69 245.75,1655.87 248.24,1652.07 250.72,1648.28 253.2,1644.49 255.68,1640.72 258.17,1636.95 260.65,1633.2 263.13,1629.46 265.61,1625.73 268.1,1622.02 270.58,1618.32 273.06,1614.64 275.54,1610.97 278.03,1607.33 280.51,1603.69 282.99,1600.08 285.47,1596.48 287.96,1592.91 290.44,1589.35 292.92,1585.82 295.4,1582.3 297.88,1578.81 300.37,1575.34 302.85,1571.9 305.33,1568.47 307.81,1565.07 310.3,1561.7 312.78,1558.35 315.26,1555.02 317.74,1551.73 320.23,1548.45 322.71,1545.21 325.19,1541.99 327.67,1538.8 330.16,1535.64 332.64,1532.51 335.12,1529.41 337.6,1526.33 340.08,1523.29 342.57,1520.28 345.05,1517.3 347.53,1514.35 350.01,1511.44 352.5,1508.55 354.98,1505.7 357.46,1502.89 359.94,1500.11 362.43,1497.36 364.91,1494.65 367.39,1491.97 369.87,1489.33 372.36,1486.73 374.84,1484.17 377.32,1481.64 379.8,1479.15 382.29,1476.7 384.77,1474.3 387.25,1471.93 389.73,1469.6 392.21,1467.31 394.7,1465.07 397.18,1462.87 399.66,1460.71 402.14,1458.6 404.63,1456.53 407.11,1454.5 409.59,1452.52 412.07,1450.59 414.56,1448.7 417.04,1446.86 419.52,1445.07 422,1443.33 424.49,1441.64 426.97,1439.99 429.45,1438.4 431.93,1436.86 434.42,1435.37 436.9,1433.93 439.38,1432.54 441.86,1431.2 444.34,1429.92 446.83,1428.7 449.31,1427.53 451.79,1426.41 454.27,1425.35 456.76,1424.34 459.24,1423.39 461.72,1422.5 464.2,1421.66 466.69,1420.88 469.17,1420.16 471.65,1419.5 474.13,1418.89 476.62,1418.35 479.1,1417.86 481.58,1417.43 484.06,1417.06 486.54,1416.75 489.03,1416.5 491.51,1416.31 493.99,1416.18 496.47,1416.11 498.96,1416.1 501.44,1416.15 503.92,1416.26 506.4,1416.43 508.89,1416.66 511.37,1416.95 513.85,1417.3 516.33,1417.71 518.82,1418.17 521.3,1418.7 523.78,1419.29 526.26,1419.93 528.75,1420.63 531.23,1421.4 533.71,1422.21 536.19,1423.09 538.67,1424.03 541.16,1425.02 543.64,1426.06 546.12,1427.17 548.6,1428.33 551.09,1429.54 553.57,1430.81 556.05,1432.14 558.53,1433.51 561.02,1434.95 563.5,1436.43 565.98,1437.97 568.46,1439.55 570.95,1441.19 573.43,1442.89 575.91,1444.63 578.39,1446.42 580.88,1448.26 583.36,1450.14 585.84,1452.08 588.32,1454.06 590.8,1456.09 593.29,1458.17 595.77,1460.29 598.25,1462.46 600.73,1464.67 603.22,1466.93 605.7,1469.23 608.18,1471.57 610.66,1473.95 613.15,1476.38 615.63,1478.85 618.11,1481.35 620.59,1483.9 623.08,1486.49 625.56,1489.11 628.04,1491.78 630.52,1494.48 633,1497.22 635.49,1499.99 637.97,1502.8 640.45,1505.65 642.93,1508.53 645.42,1511.45 647.9,1514.4 650.38,1517.39 652.86,1520.41 655.35,1523.46 657.83,1526.54 660.31,1529.66 662.79,1532.8 665.28,1535.98 667.76,1539.18 670.24,1542.42 672.72,1545.69 675.21,1548.98 677.69,1552.3 680.17,1555.65 682.65,1559.03 685.13,1562.43 687.62,1565.86 690.1,1569.32 692.58,1572.79 695.06,1576.3 697.55,1579.83 700.03,1583.38 702.51,1586.95 704.99,1590.55 707.48,1594.17 709.96,1597.8 712.44,1601.46 714.92,1605.14 717.41,1608.84 719.89,1612.55 722.37,1616.28 724.85,1620.03 727.33,1623.8 729.82,1627.58 732.3,1631.37 734.78,1635.18 737.26,1639 739.75,1642.83 742.23,1646.67 744.71,1650.53 747.19,1654.39 749.68,1658.26 752.16,1662.14 754.64,1666.02 757.12,1669.92 759.61,1673.81 762.09,1677.71 764.57,1681.61 767.05,1685.51 769.54,1689.41 772.02,1693.32 774.5,1697.22 776.98,1701.11 779.46,1705.01 781.95,1708.89 784.43,1712.78 786.91,1716.65 789.39,1720.51 791.88,1724.37 794.36,1728.21 796.84,1732.04 799.32,1735.86 801.81,1739.67 804.29,1743.45 806.77,1747.22 809.25,1750.97 811.74,1754.71 814.22,1758.42 816.7,1762.11 819.18,1765.77 821.67,1769.41 824.15,1773.03 826.63,1776.61 829.11,1780.17 831.59,1783.7 834.08,1787.2 836.56,1790.67 839.04,1794.11 841.52,1797.51 844.01,1800.87 846.49,1804.2 848.97,1807.49 851.45,1810.75 853.94,1813.96 856.42,1817.13 858.9,1820.26 861.38,1823.35 863.87,1826.4 866.35,1829.4 868.83,1832.35 871.31,1835.26 873.79,1838.12 876.28,1840.93 878.76,1843.7 881.24,1846.41 883.72,1849.07 886.21,1851.68 888.69,1854.24 891.17,1856.75 893.65,1859.2 896.14,1861.6 898.62,1863.94 901.1,1866.23 903.58,1868.46 906.07,1870.63 908.55,1872.75 911.03,1874.8 913.51,1876.8 916,1878.75 918.48,1880.63 920.96,1882.45 923.44,1884.21 925.92,1885.91 928.41,1887.56 930.89,1889.14 933.37,1890.65 935.85,1892.11 938.34,1893.51 940.82,1894.84 943.3,1896.11 945.78,1897.32 948.27,1898.46 950.75,1899.54 953.23,1900.56 955.71,1901.52 958.2,1902.41 960.68,1903.24 963.16,1904 965.64,1904.7 968.12,1905.34 970.61,1905.91 973.09,1906.42 975.57,1906.87 978.05,1907.25 980.54,1907.56 983.02,1907.82 985.5,1908.01 987.98,1908.13 990.47,1908.2 992.95,1908.19" fill="none" stroke="#ff0000" stroke-width="16" stroke-linejoin="round" stroke-linecap="butt"/></g>
<path d="M1279.2 1792.1H1785.9V1893.7H1279.2Z M1282.9 1796.3V1889.5H1782.2V1796.3Z" fill="#262626" fill-rule="evenodd"/>
<rect x="1282.9" y="1796.3" width="499.3" height="93.2" fill="#fff"/>
<path d="M1297 1842.9H1462.5" stroke="#ff0000" stroke-width="15.5" fill="none"/>
<text class="lg" transform="translate(1475.36 1863.7) scale(0.7693 1)" font-size="57.5">v(x, 100)- FSM</text>
</g>
</svg></body></html>
